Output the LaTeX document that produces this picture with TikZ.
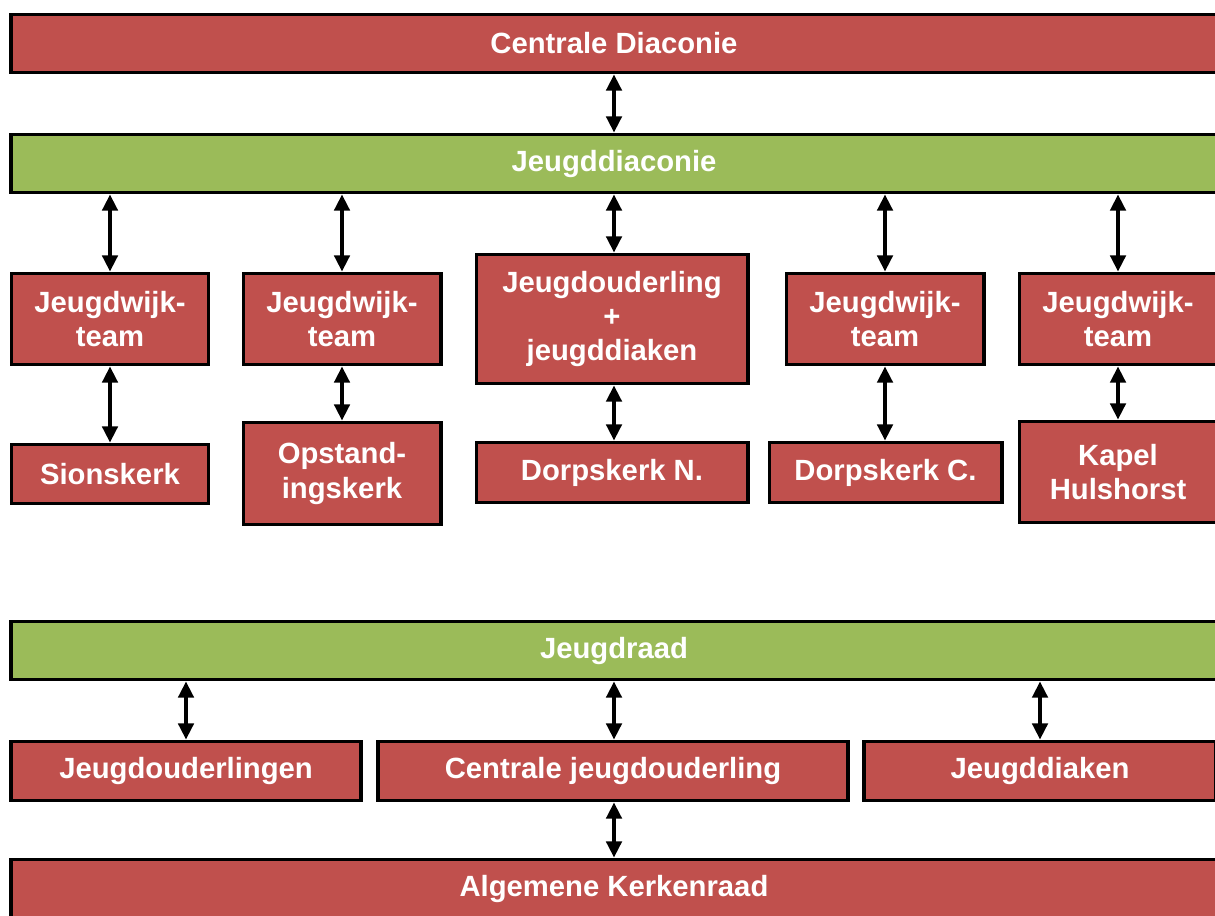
\documentclass[tikz,border=0pt]{standalone}
\usepackage{fontspec}
\setmainfont{Liberation Sans}
\usetikzlibrary{arrows.meta,positioning}

\definecolor{boxred}{HTML}{C0504D}
\definecolor{boxgreen}{HTML}{9BBB59}

\begin{document}
\begin{tikzpicture}[x=0.025cm,y=-0.025cm,
    >={Triangle[length=11.5pt,width=11pt]},
    box/.style={draw=black,line width=2.8pt,fill=boxred,text=white,
        font=\bfseries\fontsize{20.8}{24.4}\selectfont,align=center,inner sep=0pt},
    bar/.style={box,minimum width=30.125cm,minimum height=1.45cm},
    greenbar/.style={bar,fill=boxgreen},
    teambox/.style={box,minimum width=4.925cm,minimum height=2.275cm},
    churchbox/.style={box,minimum width=4.925cm,minimum height=1.475cm},
    link/.style={<->,line width=2.4pt}]

\clip (0,0) rectangle (1215,915);

% top part
\node[bar] (cd) at (614,43.5) {Centrale Diaconie};
\node[greenbar] (jdiac) at (614,163.5) {Jeugddiaconie};

\node[teambox] (wt1) at (110,319) {Jeugdwijk-\\team};
\node[teambox] (wt2) at (342,319) {Jeugdwijk-\\team};
\node[box,minimum width=6.775cm,minimum height=3.225cm] (jdj) at (612,319)
    {Jeugdouderling\\+\\jeugddiaken};
\node[teambox] (wt4) at (885,319) {Jeugdwijk-\\team};
\node[teambox] (wt5) at (1118,319) {Jeugdwijk-\\team};

\node[churchbox] (sion) at (110,474) {Sionskerk};
\node[churchbox,minimum height=2.55cm] (opst) at (342,473.5) {Opstand-\\ingskerk};
\node[churchbox,minimum width=6.775cm,minimum height=1.5cm] (dorpn) at (612,472.5) {Dorpskerk N.};
\node[churchbox,minimum width=5.8cm,minimum height=1.5cm] (dorpc) at (885.5,472.5) {Dorpskerk C.};
\node[churchbox,minimum height=2.525cm] (kapel) at (1118,472) {Kapel\\Hulshorst};

\draw[link] (cd) -- (jdiac);
\foreach \n in {wt1,wt2,wt4,wt5}
    \draw[link] (jdiac.south -| \n) -- (\n.north);
\draw[link] (jdiac.south) -- (jdiac.south |- jdj.north);

\draw[link] (wt1) -- (sion);
\draw[link] (wt2) -- (opst);
\draw[link] (jdj.south -| jdiac.south) -- (dorpn.north -| jdiac.south);
\draw[link] (wt4) -- (wt4 |- dorpc.north);
\draw[link] (wt5) -- (kapel);

% bottom part
\node[greenbar] (jraad) at (614,650.5) {Jeugdraad};
\node[churchbox,minimum width=8.725cm] (jouder) at (186,771) {Jeugdouderlingen};
\node[churchbox,minimum width=11.725cm] (cjouder) at (613,771) {Centrale jeugdouderling};
\node[churchbox,minimum width=8.775cm] (jdiaken) at (1040,771) {Jeugddiaken};
\node[bar] (akr) at (614,888.5) {Algemene Kerkenraad};

\draw[link] (jraad.south -| jouder) -- (jouder.north);
\draw[link] (jraad.south) -- (jraad.south |- cjouder.north);
\draw[link] (jraad.south -| jdiaken) -- (jdiaken.north);
\draw[link] (cjouder.south -| akr.north) -- (akr.north);

\end{tikzpicture}
\end{document}
